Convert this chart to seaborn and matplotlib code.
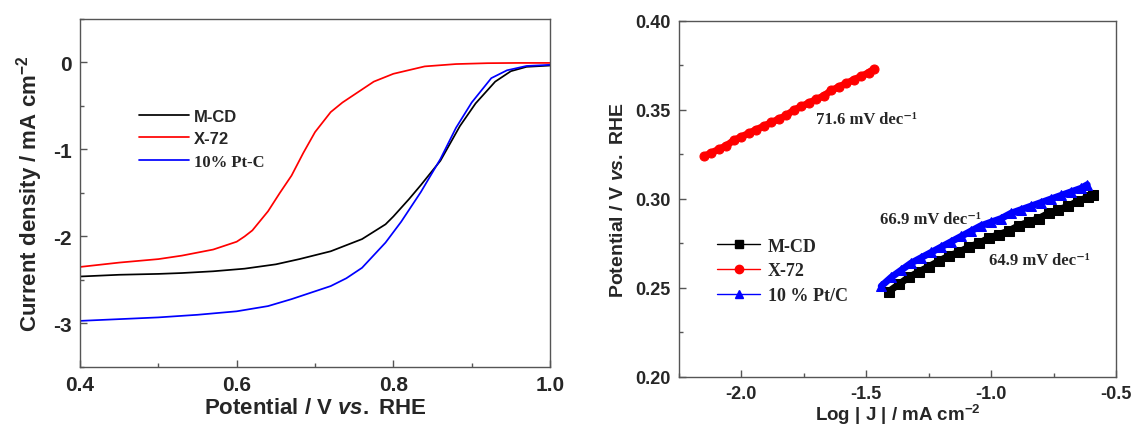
import numpy as np
import pandas as pd
import matplotlib
matplotlib.use("Agg")
import matplotlib.pyplot as plt
from matplotlib.lines import Line2D
from matplotlib.ticker import MultipleLocator, FormatStrFormatter
import seaborn as sns

# LSV curves (left panel)
e_mcd = [0.40, 0.45, 0.50, 0.53, 0.57, 0.61, 0.65, 0.68, 0.72, 0.76, 0.79,
         0.80, 0.82, 0.835, 0.86, 0.885, 0.905, 0.93, 0.95, 0.97, 1.00]
j_mcd = [-2.46, -2.44, -2.43, -2.42, -2.40, -2.37, -2.32, -2.26, -2.17, -2.03, -1.86,
         -1.77, -1.57, -1.41, -1.13, -0.73, -0.47, -0.22, -0.10, -0.05, -0.035]
e_x72 = [0.40, 0.45, 0.50, 0.53, 0.57, 0.60, 0.61, 0.62, 0.64, 0.655, 0.67, 0.685,
         0.70, 0.72, 0.735, 0.76, 0.775, 0.80, 0.84, 0.88, 0.92, 0.96, 1.00]
j_x72 = [-2.35, -2.30, -2.26, -2.22, -2.15, -2.06, -2.00, -1.93, -1.71, -1.50, -1.30, -1.04,
         -0.80, -0.57, -0.46, -0.31, -0.22, -0.13, -0.045, -0.018, -0.008, -0.005, -0.005]
e_ptc = [0.40, 0.45, 0.50, 0.55, 0.60, 0.64, 0.67, 0.70, 0.72, 0.74, 0.76,
         0.79, 0.81, 0.835, 0.86, 0.88, 0.90, 0.925, 0.945, 0.97, 1.00]
j_ptc = [-2.97, -2.95, -2.93, -2.90, -2.86, -2.80, -2.72, -2.63, -2.57, -2.48, -2.36,
         -2.07, -1.83, -1.49, -1.11, -0.75, -0.46, -0.18, -0.09, -0.04, -0.027]
lsv_labels = ["M-CD", "X-72", "10% Pt-C"]

# Tafel plots (right panel)
logj_x72 = [-2.15, -2.12, -2.09, -2.06, -2.03, -2.00, -1.97, -1.94, -1.91, -1.88, -1.85, -1.82,
            -1.79, -1.76, -1.73, -1.70, -1.67, -1.64, -1.61, -1.58, -1.55, -1.52, -1.49, -1.47]
eta_x72 = [0.324, 0.326, 0.328, 0.330, 0.333, 0.335, 0.337, 0.339, 0.341, 0.343, 0.345, 0.347,
           0.350, 0.352, 0.354, 0.356, 0.358, 0.361, 0.363, 0.365, 0.367, 0.369, 0.371, 0.373]
logj_mcd = [-1.41, -1.37, -1.33, -1.29, -1.25, -1.21, -1.17, -1.13, -1.09, -1.05, -1.01,
            -0.97, -0.93, -0.89, -0.85, -0.81, -0.77, -0.73, -0.69, -0.65, -0.61, -0.59]
eta_mcd = [0.248, 0.252, 0.256, 0.259, 0.262, 0.265, 0.268, 0.270, 0.273, 0.275, 0.278,
           0.280, 0.282, 0.285, 0.287, 0.289, 0.292, 0.294, 0.296, 0.299, 0.301, 0.302]
logj_ptc = [-1.44, -1.40, -1.36, -1.32, -1.28, -1.24, -1.20, -1.16, -1.12, -1.08, -1.04,
            -1.00, -0.96, -0.92, -0.88, -0.84, -0.80, -0.76, -0.72, -0.68, -0.64, -0.615]
eta_ptc = [0.251, 0.256, 0.260, 0.264, 0.267, 0.270, 0.273, 0.276, 0.279, 0.282, 0.285,
           0.287, 0.289, 0.292, 0.294, 0.296, 0.298, 0.300, 0.302, 0.304, 0.306, 0.308]
tafel_labels = ["M-CD", "X-72", "10 % Pt/C"]
slopes = ["71.6", "66.9", "64.9"]

sns.set_style("ticks")
plt.rcParams["font.family"] = ["Liberation Sans", "DejaVu Sans"]
plt.rcParams["font.weight"] = "bold"
plt.rcParams["axes.unicode_minus"] = False
plt.rcParams["mathtext.fontset"] = "custom"
plt.rcParams["mathtext.rm"] = "Liberation Sans:bold"
plt.rcParams["mathtext.bf"] = "Liberation Sans:bold"
plt.rcParams["mathtext.it"] = "Liberation Sans:italic:bold"

fig = plt.figure(figsize=(11.32, 4.27), dpi=100)
ax1 = fig.add_axes([0.0707, 0.1382, 0.4152, 0.815])
ax2 = fig.add_axes([0.5998, 0.1148, 0.386, 0.8337])

spine_col = "#555555"
for ax in (ax1, ax2):
    for s in ax.spines.values():
        s.set_color(spine_col)
        s.set_linewidth(1.0)
    ax.tick_params(which="both", direction="in", color=spine_col, width=1.0)
    ax.tick_params(which="major", length=5)
    ax.tick_params(which="minor", length=3)

# left panel
lsv_sets = [(e_mcd, j_mcd, "black"), (e_x72, j_x72, "red"), (e_ptc, j_ptc, "blue")]
for (xv, yv, col), lab in zip(lsv_sets, lsv_labels):
    sns.lineplot(x=xv, y=yv, color=col, linewidth=1.25, label=lab, ax=ax1)
ax1.set_xlim(0.4, 1.0)
ax1.set_ylim(-3.5, 0.5)
ax1.xaxis.set_major_locator(MultipleLocator(0.2))
ax1.xaxis.set_minor_locator(MultipleLocator(0.1))
ax1.yaxis.set_major_locator(MultipleLocator(1))
ax1.yaxis.set_minor_locator(MultipleLocator(0.5))
ax1.xaxis.set_major_formatter(FormatStrFormatter("%.1f"))
ax1.yaxis.set_major_formatter(FormatStrFormatter("%d"))
ax1.tick_params(labelsize=15, pad=6)
ax1.set_xlabel(r"Potential / V $\mathit{vs.}$ RHE", fontsize=16, fontweight="bold", labelpad=2)
ax1.set_ylabel(r"Current density / mA cm$^{-2}$", fontsize=16, fontweight="bold", labelpad=6)
leg1 = ax1.legend(loc="center left", bbox_to_anchor=(0.126, 0.655), frameon=False,
                  borderpad=0, borderaxespad=0, handlelength=3.0, handletextpad=0.3,
                  labelspacing=0.45, fontsize=12)
leg1.get_texts()[2].set_family("Liberation Serif")
for t in leg1.get_texts():
    t.set_fontweight("bold")

# right panel: dense marker bands
tafel_sets = [(logj_mcd, eta_mcd, "black", "s"),
              (logj_x72, eta_x72, "red", "o"),
              (logj_ptc, eta_ptc, "blue", "^")]
handles = []
for (xv, yv, col, mk), lab in zip(tafel_sets, tafel_labels):
    sns.lineplot(x=xv, y=yv, color=col, marker=mk, markersize=6.5, markeredgecolor=col,
                 linewidth=5, ax=ax2)
    handles.append(Line2D([], [], color=col, marker=mk, markersize=6, linewidth=1.0, label=lab))
ax2.set_xlim(-2.25, -0.5)
ax2.set_ylim(0.20, 0.40)
ax2.xaxis.set_major_locator(MultipleLocator(0.5))
ax2.xaxis.set_minor_locator(MultipleLocator(0.25))
ax2.yaxis.set_major_locator(MultipleLocator(0.05))
ax2.yaxis.set_minor_locator(MultipleLocator(0.025))
ax2.xaxis.set_major_formatter(FormatStrFormatter("%.1f"))
ax2.yaxis.set_major_formatter(FormatStrFormatter("%.2f"))
ax2.tick_params(labelsize=13, pad=6)
ax2.set_xlabel(r"Log | J | / mA cm$^{-2}$", fontsize=13.5, fontweight="bold", labelpad=0)
ax2.set_ylabel(r"Potential / V $\mathit{vs.}$ RHE", fontsize=14, fontweight="bold", labelpad=6)
leg2 = ax2.legend(handles=handles, loc="center left", bbox_to_anchor=(0.087, 0.298),
                  frameon=False, borderpad=0, borderaxespad=0, handlelength=2.4,
                  handletextpad=0.4, labelspacing=0.42,
                  prop={"family": "Liberation Serif", "weight": "bold", "size": 13})

serif = ["Liberation Serif", "DejaVu Serif"]
ax2.text(-1.703, 0.345, slopes[0] + " mV dec\u207b\u00b9", family=serif, fontweight="bold",
         fontsize=12, va="center", ha="left")
ax2.text(-1.446, 0.289, slopes[1] + " mV dec\u207b\u00b9", family=serif, fontweight="bold",
         fontsize=12, va="center", ha="left")
ax2.text(-1.01, 0.266, slopes[2] + " mV dec\u207b\u00b9", family=serif, fontweight="bold",
         fontsize=12, va="center", ha="left")

fig.savefig("out.png", dpi=100)
